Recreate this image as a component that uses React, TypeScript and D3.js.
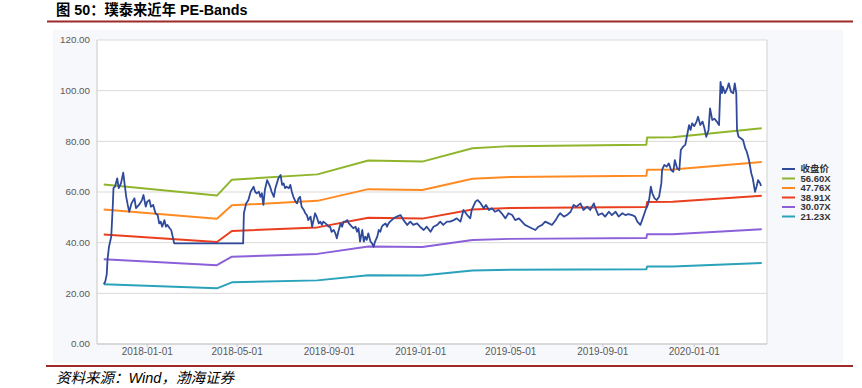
import React from "react";
import * as d3 from "d3";

// ---------- DATA ----------
// price: [days since 2018-01-01, close]
const PRICE: [number, number][] = [
  [-58,23.7],[-56,24.6],[-54,27.5],[-53,33.2],[-51,38.4],[-48,42.4],[-46,54.2],[-45,61.5],[-43,62.1],[-40,65.4],[-38,61.5],[-35,63.4],[-32,67.6],[-30,62.8],[-28,58.1],[-26,54.9],[-24,52.2],[-21,55.5],[-17,57.5],[-15,53.6],[-11,54.9],[-7,56.8],[-5,58.8],[-2,54.2],[0,56.2],[3,56.8],[5,54.2],[8,54.9],[11,51.6],[14,50.9],[16,47.6],[18,48.3],[20,46.3],[23,48.9],[25,46.3],[27,47],[30,45.7],[32,45],[34,42.4],[36,39.7],[128,39.7],
  [129,51.6],[132,55.5],[135,56.8],[138,60.1],[142,62.1],[144,60.1],[146,59.5],[149,60.1],[151,58.1],[153,59.5],[155,54.9],[157,60.8],[160,64.7],[162,63.4],[164,62.1],[166,60.1],[169,58.1],[171,61.5],[173,63.4],[175,65.4],[178,66.7],[180,62.8],[182,63.4],[184,61.5],[186,62.1],[189,61.5],[191,62.8],[193,60.1],[195,58.1],[198,56.2],[200,55.5],[202,57.5],[204,58.1],[206,54.2],[209,52.9],[211,51.6],[213,50.9],[215,48.9],[218,50.3],[220,46.3],[222,48.9],[224,51.6],[226,50.3],[229,47.6],[231,48.3],[233,47],[235,48.3],[238,47.6],[240,47],[242,46.3],[244,46.3],[246,44.3],[249,45],[251,43.7],[253,41.7],[255,44.3],[258,47.6],[260,46.3],[262,48.3],[264,48.3],[267,48.9],[269,47.6],[271,47],[273,46.3],[275,45.7],[278,46.3],[280,44.3],[282,45.7],[284,40.4],[287,45],[289,40.4],[291,42.4],[293,41.1],[295,43.7],[298,40.4],[300,39.7],[302,38.4],[304,40.4],[307,42.4],[309,45],[311,44.3],[313,46.3],[315,47],[318,47.6],[320,46.3],[322,47.6],
  [324,48.3],[329,49.6],[333,50.3],[338,50.9],[342,48.9],[347,47],[351,48.3],[355,47],[360,47.6],[364,46.3],[369,45],[373,46.3],[378,44.3],[382,46.3],[387,47],[391,48.3],[395,47],[400,48.3],[404,48.3],[409,48.9],[413,49.6],[418,48.3],[422,52.9],[427,50.9],[431,49.6],[433,52.9],[438,56.2],[441,56.8],[445,55.5],[449,53.6],[452,54.9],[456,52.9],[460,53.6],[464,52.2],[469,52.9],[473,51.6],[478,49.6],[482,51.6],[487,50.9],[491,48.9],[496,49.6],[500,48.3],[504,47],[509,46.3],[513,45.7],[518,45],[522,46.3],[527,47],[531,48.3],[536,47.6],[540,47],[545,48.9],[549,50.9],[551,51.6],
  [556,50.3],[560,50.9],[565,52.2],[569,54.9],[573,54.2],[578,55.5],[582,52.9],[587,54.2],[591,52.9],[596,55.5],[598,53.6],[602,50.9],[607,51.6],[611,50.3],[616,52.2],[620,50.9],[625,52.2],[629,50.3],[634,51.6],[638,50.9],[642,51.3],[647,50.9],[651,50.3],[654,48.3],[658,47],[662,50.3],[665,52.9],[668,54.9],[670,57.5],[672,62.1],[674,59.5],[677,57.5],[680,56.8],[683,58.1],[686,63.4],[687,68.7],[690,70.7],[693,70],[696,71.3],[699,68.7],[702,68],[704,72.6],[707,69.4],[710,68.7],[712,76.6],[715,77.9],[718,78.6],[720,81.8],[723,86.4],[725,84.5],[727,87.1],[730,86],[733,87.8],[735,89.7],[738,86.4],[741,87.8],[743,85.8],[746,81.8],[749,84.5],[751,93],[754,88.4],[757,88.9],[760,87.8],[763,86.4],[765,103.5],[767,99],[768,101.6],[771,99],[774,100.9],[776,102.9],[779,99.6],[782,99],[784,102.9],[786,99],[787,84.5],[789,81.8],[792,81.2],[795,80.5],[798,77.2],[800,75.9],[803,72.6],[806,67.4],[808,65.4],[811,60.1],[813,62.1],[815,64.7],[818,63.4],[819,62.4],
];

// EPS knots behind the PE bands: [days since 2018-01-01, EPS]
const EPS_KNOTS: [number, number][] = [
  [-58,1.112],[93,1.035],[113,1.146],[227,1.183],[295,1.28],[367,1.272],[434,1.365],[484,1.38],[666,1.39],[667,1.44],[701,1.442],[820,1.505],
];

const PE_MULTIPLES = [56.60, 47.76, 38.91, 30.07, 21.23];
const LEGEND_LABELS = ["收盘价", "56.60X", "47.76X", "38.91X", "30.07X", "21.23X"];
const Y_TICKS = [0, 20, 40, 60, 80, 100, 120];
const X_TICKS = ["2018-01-01", "2018-05-01", "2018-09-01", "2019-01-01", "2019-05-01", "2019-09-01", "2020-01-01"];
const X_DOMAIN = ["2017-10-26", "2020-04-07"];

const TITLE = "图 50：璞泰来近年 PE-Bands";
const SOURCE = "资料来源：Wind，渤海证券";

const PRICE_COLOR = "#2f4a9a";
const BAND_COLORS = ["#8fb52c", "#ff8a22", "#ea3e1e", "#8b60d8", "#2aa2bb"];

// ---------- helpers ----------
const BASE = Date.UTC(2018, 0, 1);
const dayToDate = (d: number) => new Date(BASE + d * 864e5);
const parse = (s: string) => {
  const [y, m, d] = s.split("-").map(Number);
  return new Date(Date.UTC(y, m - 1, d));
};

export default function App() {
  const W = 862, H = 388;
  const left = 97, right = 767, top = 40, bottom = 344;

  const x = d3.scaleUtc().domain(X_DOMAIN.map(parse)).range([left, right]);
  const y = d3.scaleLinear().domain([0, 120]).range([bottom, top]);

  const line = d3
    .line<[number, number]>()
    .x((d) => x(dayToDate(d[0])))
    .y((d) => y(d[1]));

  const pricePath = line(PRICE) || "";
  const bandPaths = PE_MULTIPLES.map(
    (m) => line(EPS_KNOTS.map(([d, e]) => [d, e * m] as [number, number])) || ""
  );

  const allColors = [PRICE_COLOR, ...BAND_COLORS];
  const legendX = 782;
  const legendY0 = 169;
  const legendStep = 9.5;

  const axisFont = "'Liberation Sans', Arial, sans-serif";

  return (
    <div style={{ position: "absolute", left: 0, top: 0 }}>
      <svg width={W} height={H} viewBox={`0 0 ${W} ${H}`} style={{ display: "block", background: "#fff" }}>
        {/* title */}
        <text
          x={56}
          y={15}
          fontFamily="'Liberation Sans', 'Noto Sans CJK SC', sans-serif"
          fontWeight="bold"
          fontSize={14.3}
          fill="#000"
        >
          {TITLE}
        </text>
        <line x1={47} x2={853} y1={21.5} y2={21.5} stroke="#9e2a2b" strokeWidth={2} />

        {/* chart container */}
        <rect x={53} y={30} width={790} height={333} fill="#f7f8fb" />
        <rect x={left} y={top} width={right - left} height={bottom - top} fill="#ffffff" />

        {/* gridlines */}
        {Y_TICKS.map((t) => (
          <line key={t} x1={left} x2={right} y1={y(t)} y2={y(t)} stroke="#d9d9d9" strokeWidth={1} />
        ))}
        <line x1={left} x2={left} y1={top} y2={bottom} stroke="#c8c8c8" strokeWidth={1} />
        <line x1={right} x2={right} y1={top} y2={bottom} stroke="#d0d0d0" strokeWidth={1} />
        <line x1={left} x2={right} y1={bottom} y2={bottom} stroke="#c8c8c8" strokeWidth={1} />

        {/* y labels */}
        {Y_TICKS.map((t) => (
          <text
            key={t}
            x={90}
            y={y(t)}
            dy="0.35em"
            textAnchor="end"
            fontFamily={axisFont}
            fontSize={9.8}
            fill="#595959"
          >
            {t.toFixed(2)}
          </text>
        ))}

        {/* x ticks & labels */}
        {X_TICKS.map((s) => {
          const xx = x(parse(s));
          return (
            <g key={s}>
              <line x1={xx} x2={xx} y1={bottom} y2={bottom + 3} stroke="#c8c8c8" />
              <text
                x={xx}
                y={355}
                textAnchor="middle"
                fontFamily={axisFont}
                fontSize={10}
                fill="#595959"
              >
                {s}
              </text>
            </g>
          );
        })}

        {/* bands */}
        {bandPaths.map((p, i) => (
          <path key={i} d={p} fill="none" stroke={BAND_COLORS[i]} strokeWidth={2} strokeLinejoin="round" />
        ))}
        {/* price */}
        <path d={pricePath} fill="none" stroke={PRICE_COLOR} strokeWidth={1.8} strokeLinejoin="round" />

        {/* legend */}
        {LEGEND_LABELS.map((lab, i) => {
          const yy = legendY0 + i * legendStep;
          return (
            <g key={lab}>
              <line x1={legendX} x2={legendX + 13} y1={yy} y2={yy} stroke={allColors[i]} strokeWidth={2} />
              <text
                x={800.5}
                y={yy}
                dy="0.36em"
                fontFamily="'Liberation Sans', 'Noto Sans CJK SC', sans-serif"
                fontWeight="bold"
                fontSize={9.5}
                fill="#333"
              >
                {lab}
              </text>
            </g>
          );
        })}

        {/* source */}
        <line x1={46} x2={853} y1={366} y2={366} stroke="#9e2a2b" strokeWidth={2} />
        <text
          x={56}
          y={383}
          fontFamily="'Liberation Sans', 'Noto Sans CJK SC', sans-serif"
          fontStyle="italic"
          fontSize={14.5}
          fill="#000"
        >
          {SOURCE}
        </text>
      </svg>
    </div>
  );
}
